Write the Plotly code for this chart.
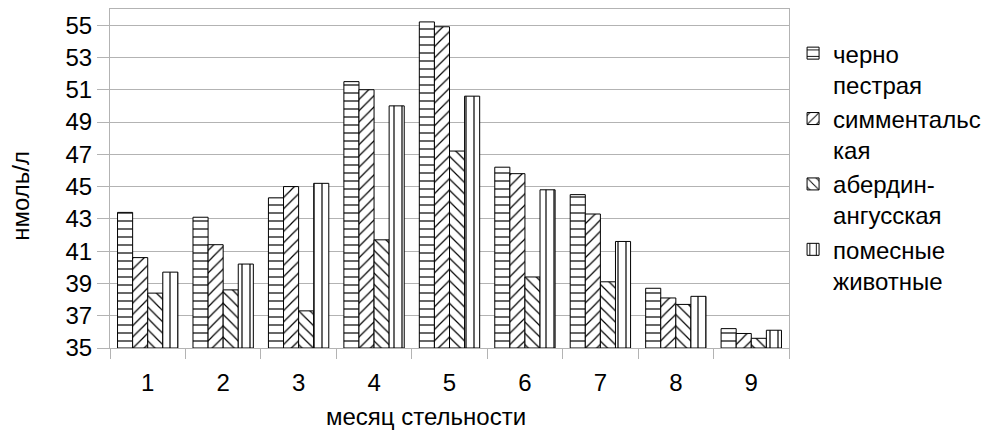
import plotly.graph_objects as go

months = ["1", "2", "3", "4", "5", "6", "7", "8", "9"]
cherno = [43.4, 43.1, 44.3, 51.5, 55.2, 46.2, 44.5, 38.7, 36.2]
simm = [40.6, 41.4, 45.0, 51.0, 54.9, 45.8, 43.3, 38.1, 35.9]
aberd = [38.4, 38.6, 37.3, 41.7, 47.2, 39.4, 39.1, 37.7, 35.6]
pomes = [39.7, 40.2, 45.2, 50.0, 50.6, 44.8, 41.6, 38.2, 36.1]

names = ["черно<br>пестрая", "симментальс<br>кая", "абердин-<br>ангусская", "помесные<br>животные"]
series = [cherno, simm, aberd, pomes]
shapes = ["-", "/", "\\", "|"]

FONT = "Liberation Sans, Arial, sans-serif"
GRID = "#b3b3b3"

fig = go.Figure()
for nm, vals, sh in zip(names, series, shapes):
    fig.add_trace(go.Bar(
        x=months, y=[v - 35 for v in vals], base=35, name=nm,
        marker=dict(color="white",
                    line=dict(color="black", width=1),
                    pattern=dict(shape=sh, size=8, solidity=0.15,
                                 fgcolor="black", bgcolor="white",
                                 fillmode="replace")),
    ))

fig.update_layout(
    width=995, height=432,
    margin=dict(l=110, r=200, t=9, b=84),
    paper_bgcolor="white", plot_bgcolor="white",
    barmode="group", bargap=0.2, bargroupgap=0,
    font=dict(family=FONT, size=24, color="black"),
    showlegend=True,
    legend=dict(x=1.006, xanchor="left", y=0.935, yanchor="top",
                font=dict(size=24), valign="top",
                tracegroupgap=0, itemwidth=30,
                bgcolor="rgba(0,0,0,0)"),
    xaxis=dict(showgrid=False, showline=True, linecolor=GRID, linewidth=1,
               mirror=True, ticks="outside", ticklen=10, tickcolor=GRID,
               tickson="boundaries", tickfont=dict(size=24),
               ticklabelstandoff=13),
    yaxis=dict(range=[35, 56], tick0=35, dtick=2, showgrid=True,
               gridcolor=GRID, gridwidth=1, showline=True, linecolor=GRID,
               linewidth=1, mirror=True, ticks="outside", ticklen=12,
               tickcolor=GRID, tickfont=dict(size=24), zeroline=False),
    annotations=[
        dict(text="нмоль/л", xref="paper", yref="paper", x=-0.132, y=0.45,
             textangle=-90, showarrow=False, xanchor="center", yanchor="middle",
             font=dict(size=24)),
        dict(text="месяц стельности", xref="paper", yref="paper", x=0.465,
             y=-0.203, showarrow=False, xanchor="center", yanchor="middle",
             font=dict(size=24)),
    ],
)

fig.write_html("out.html")
